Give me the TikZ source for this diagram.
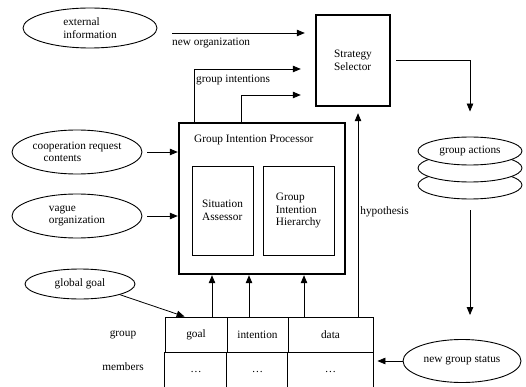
\documentclass[tikz,border=0pt]{standalone}
\usepackage{fontspec}
\setmainfont{Liberation Serif}
\usetikzlibrary{shapes.geometric, arrows.meta}
\tikzset{
  oval/.style={ellipse, draw, line width=0.9pt, inner sep=0pt, align=left},
  heavy/.style={draw, line width=2.4pt, inner sep=0pt, align=left},
  block/.style={draw, line width=0.8pt, inner sep=0pt, align=left},
  cell/.style={draw, line width=0.8pt, inner sep=0pt, minimum height=35pt},
  arrow/.style={line width=0.8pt, -{Triangle[length=8pt,width=6.5pt]}}
}

\begin{document}
\begin{tikzpicture}[x=1pt, y=-1pt, font=\fontsize{11.3}{12.5}\selectfont]
  \useasboundingbox (0,0) rectangle (526,387);
  % inputs on the left
  \node[oval, minimum width=134pt, minimum height=40pt] (ext) at (90,28) {external\\information};
  \node[oval, minimum width=130pt, minimum height=44pt] (coop) at (77,152) {cooperation request\\\hspace*{11pt}contents};
  \node[oval, minimum width=130pt, minimum height=44pt] (vague) at (77,216) {vague\\organization};
  \node[oval, minimum width=110pt, minimum height=30pt] (goalin) at (80,284) {global goal};
  % selector and processor
  \node[heavy, minimum width=74pt, minimum height=91pt] (sel) at (353,60.5) {Strategy\\Selector};
  \node[heavy, minimum width=166pt, minimum height=151pt] (gip) at (262,198.5) {};
  \node[anchor=west, inner sep=0pt] (giptitle) at (194,140) {Group Intention Processor};
  \node[block, minimum width=61pt, minimum height=89pt] (sa) at (222.5,210.5) {Situation\\Assessor};
  \node[block, minimum width=71pt, minimum height=89pt] (gih) at (298.5,210.5) {Group\\Intention\\Hierarchy};
  % group actions stack
  \foreach \k/\yy in {3/185, 2/168, 1/151}
    \node[oval, fill=white, minimum width=104pt, minimum height=28pt] (act\k) at (470,\yy) {};
  \node (acttext) at (act1) {group actions};
  \node[oval, minimum width=118pt, minimum height=43pt] (status) at (462,361) {new group status};
  % member table
  \node[cell, minimum width=62pt] (goal) at (196,334.5) {goal};
  \node[cell, minimum width=61pt] (intent) at (257.5,334.5) {intention};
  \node[cell, minimum width=85pt] (data) at (330.5,334.5) {data};
  \foreach \c in {goal, intent, data} {
    \draw[line width=0.8pt] (\c.south west) -- ++(0,35);
    \node (dots-\c) at ([yshift=-20pt]\c.south) {\dots};
  }
  \draw[line width=0.8pt] (data.south east) -- ++(0,35);
  \node (grouplbl) at (123,335) {group};
  \node (memlbl) at (123,367) {members};
  % connectors
  \coordinate (neworg) at (172,33);
  \coordinate (bendA) at (194,69);
  \coordinate (bendB) at (241,95);
  \draw[arrow, shorten >=10pt] (neworg) -- (neworg -| sel.west);
  \node[anchor=north west, inner sep=0pt] (neworglbl) at (172,38) {new organization};
  \draw[arrow, shorten >=14pt] (bendA |- gip.north) -- (bendA) -- (bendA -| sel.west);
  \node[anchor=north west, inner sep=0pt] (gilbl) at (196,75) {group intentions};
  \draw[arrow, shorten >=14pt] (bendB |- gip.north) -- (bendB) -- (bendB -| sel.west);
  \draw[arrow, shorten <=5pt, shorten >=25pt] (sel.east) -| (act1.north);
  \draw[arrow, shorten <=11pt, shorten >=24pt] (act3.south) -- (act3.south |- status.north);
  \draw[arrow, shorten <=5pt] (coop.east) -- (coop.east -| gip.west);
  \draw[arrow, shorten <=5pt] (vague.east) -- (vague.east -| gip.west);
  \draw[arrow] (goalin.-15) -- ([xshift=20pt]goal.north west);
  \draw[arrow] ([xshift=16pt]goal.north) -- ([xshift=16pt]goal.north |- gip.south);
  \draw[arrow] ([xshift=-8.5pt]intent.north) -- ([xshift=-8.5pt]intent.north |- gip.south);
  \draw[arrow] ([xshift=-26.5pt]data.north) -- ([xshift=-26.5pt]data.north |- gip.south);
  \draw[arrow, shorten >=6pt] ([xshift=27.5pt]data.north) -- ([xshift=27.5pt]data.north |- sel.south)
    node[pos=0.5, right, inner sep=2pt] (hyplbl) {hypothesis};
  \draw[arrow, shorten >=4pt] (status.west) -- (status.west -| data.east);
\end{tikzpicture}
\end{document}
